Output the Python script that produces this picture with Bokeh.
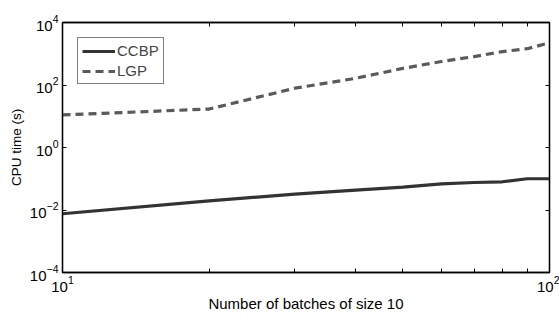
from bokeh.plotting import figure
from bokeh.models import Range1d, FixedTicker, LogAxis, Legend, LegendItem, CustomJSTickFormatter
from bokeh.embed import file_html
from bokeh.resources import INLINE

# data
batches = [10, 20, 30, 40, 50, 60, 70, 80, 90, 100]
ccbp = [0.0076, 0.0196, 0.032, 0.043, 0.054, 0.069, 0.076, 0.080, 0.100, 0.100]
lgp = [11, 17, 79, 164, 340, 565, 810, 1170, 1450, 2240]

x_major = [10, 100]
x_minor = [20, 30, 40, 50, 60, 70, 80, 90]
y_major = [1e-4, 1e-2, 1, 1e2, 1e4]

FONT = "Liberation Sans"

p = figure(width=559, height=314, x_axis_type="log", y_axis_type="log",
           x_range=Range1d(10, 100), y_range=Range1d(1e-4, 1e4),
           output_backend="svg", toolbar_location=None,
           min_border_left=62, min_border_right=10, min_border_top=22, min_border_bottom=39)
p.grid.visible = False
p.outline_line_color = "black"
p.outline_line_width = 1.3
p.background_fill_color = "white"
p.border_fill_color = "white"

r1 = p.line(batches, ccbp, line_color="#333333", line_width=3.2)
r2 = p.line(batches, lgp, line_color="#5a5a5a", line_width=3.2, line_dash="8 5")

def style(ax, labels=True):
    ax.axis_line_color = "black"
    ax.axis_line_width = 1.3
    ax.major_tick_in = 4
    ax.major_tick_out = 0
    ax.minor_tick_in = 4
    ax.minor_tick_out = 0
    ax.major_tick_line_color = "black"
    ax.minor_tick_line_color = "black"
    ax.major_label_text_font = FONT
    ax.major_label_text_font_size = "15px" if labels else "1px"
    ax.major_label_text_color = "black"
    ax.axis_label_text_font = FONT
    ax.axis_label_text_font_style = "normal"
    ax.axis_label_text_color = "black"
    if not labels:
        ax.formatter = CustomJSTickFormatter(code="return '';")
        ax.major_label_standoff = 0

xa = p.xaxis[0]
xa.ticker = FixedTicker(ticks=x_major, minor_ticks=x_minor)
style(xa)
xa.axis_label = "Number of batches of size 10"
xa.axis_label_text_font_size = "15px"
xa.major_label_standoff = 3
xa.axis_label_standoff = 0

ya = p.yaxis[0]
ya.ticker = FixedTicker(ticks=y_major, minor_ticks=[])
style(ya)
ya.axis_label = "CPU time (s)"
ya.axis_label_text_font_size = "13.5px"
ya.major_label_standoff = 4
ya.axis_label_standoff = 3

top = LogAxis(ticker=FixedTicker(ticks=x_major, minor_ticks=x_minor))
style(top, labels=False)
p.add_layout(top, "above")

right = LogAxis(ticker=FixedTicker(ticks=y_major, minor_ticks=[]))
style(right, labels=False)
p.add_layout(right, "right")

legend = Legend(items=[LegendItem(label="CCBP", renderers=[r1]),
                       LegendItem(label="LGP", renderers=[r2])],
                location="top_left", margin=15, padding=4, spacing=3,
                glyph_width=33, glyph_height=16, label_height=16, label_standoff=2,
                label_text_font=FONT, label_text_font_size="15px",
                border_line_color="black", border_line_width=1,
                background_fill_color="white", background_fill_alpha=1)
p.add_layout(legend)

open("out.html", "w").write(file_html(p, INLINE))
